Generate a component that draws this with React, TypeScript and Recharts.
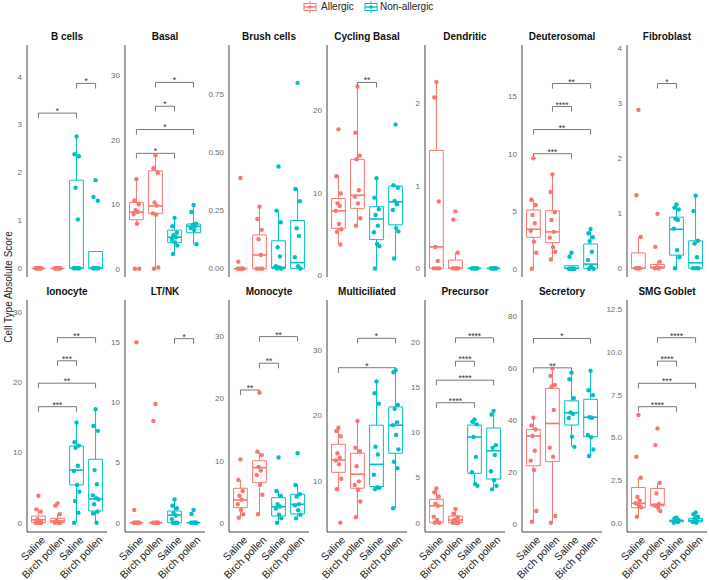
import React from 'react';
import { ScatterChart, Scatter, XAxis, YAxis, ReferenceArea, ReferenceLine } from 'recharts';

const CONDITIONS = ['Saline', 'Birch pollen', 'Saline', 'Birch pollen'];
const GROUPS = ['Allergic', 'Non-allergic'];

// each panel: points per group (A-Saline, A-Birch, NA-Saline, NA-Birch),
// box stats [lowWhisker, q1, median, q3, highWhisker], brackets [from, to, y, label]
const BCELLS_POINTS = [
  [0, 0, 0, 0, 0, 0, 0, 0, 0, 0],
  [0, 0, 0, 0, 0, 0, 0, 0, 0, 0],
  [2.75, 2.38, 2.34, 1.68, 1.02, 0, 0, 0, 0, 0],
  [1.84, 1.49, 1.41, 0, 0, 0, 0, 0, 0],
];
const BCELLS_BOX = [[0, 0, 0, 0, 0], [0, 0, 0, 0, 0], [0, 0, 0, 1.84, 2.75], [0, 0, 0, 0.35, 0.35]];
const BCELLS_SIG = [[1, 3, 3.24, '*'], [3, 4, 3.86, '*']];
const BCELLS_TICKS = [0, 1, 2, 3, 4];

const BASAL_POINTS = [
  [13.9, 10.6, 10.0, 9.1, 8.8, 8.5, 7.0, 0, 0],
  [17.6, 15.6, 14.9, 10.3, 9.8, 8.6, 8.4, 0.2, 0],
  [7.9, 6.6, 5.6, 5.2, 4.9, 4.5, 4.1, 3.6, 2.3],
  [9.9, 8.8, 7.0, 6.8, 6.6, 6.3, 6.0, 3.8],
];
const BASAL_BOX = [[7.0, 7.6, 8.8, 10.3, 13.9], [0, 8.6, 9.75, 15.2, 17.6], [2.3, 4.05, 4.9, 6.0, 7.9], [3.8, 5.6, 6.6, 6.95, 9.9]];
const BASAL_SIG = [[1, 3, 17.9, '*'], [1, 4, 21.6, '*'], [2, 3, 25.2, '*'], [2, 4, 28.9, '*']];
const BASAL_TICKS = [0, 10, 20, 30];

const BRUSH_POINTS = [
  [0.39, 0.03, 0, 0, 0, 0, 0, 0],
  [0.267, 0.214, 0.167, 0.127, 0.059, 0, 0, 0],
  [0.44, 0.25, 0.2, 0.092, 0.052, 0.01, 0.005, 0, 0],
  [0.8, 0.343, 0.29, 0.174, 0.141, 0.049, 0.01, 0],
];
const BRUSH_BOX = [[0, 0, 0, 0, 0], [0, 0, 0.059, 0.145, 0.267], [0, 0, 0.006, 0.12, 0.25], [0, 0, 0.026, 0.207, 0.343]];
const BRUSH_SIG = [];
const BRUSH_TICKS = [0, 0.25, 0.5, 0.75];

const CYCLING_POINTS = [
  [17.7, 12.0, 9.9, 8.7, 8.4, 7.8, 6.2, 5.55, 5.26, 3.7],
  [22.9, 17.3, 14.5, 14.06, 10.3, 9.5, 8.7, 6.9, 6.0],
  [11.75, 9.4, 8.0, 7.3, 6.0, 5.2, 3.77, 3.5, 0.8],
  [18.3, 10.9, 10.6, 9.0, 8.6, 7.9, 5.7, 5.3, 2.0],
];
const CYCLING_BOX = [[3.7, 5.67, 7.8, 9.3, 12.15], [6.0, 8.1, 9.7, 14.06, 22.9], [0.8, 4.3, 6.8, 8.3, 11.75], [2.0, 6.1, 8.9, 10.8, 10.9]];
const CYCLING_SIG = [[2, 3, 23.4, '**']];
const CYCLING_TICKS = [0, 10, 20];

const DENDRITIC_POINTS = [
  [2.26, 2.07, 0.81, 0.26, 0.09, 0, 0, 0],
  [0.69, 0.59, 0.19, 0, 0, 0, 0, 0],
  [0, 0, 0, 0, 0, 0, 0, 0],
  [0, 0, 0, 0, 0, 0, 0, 0],
];
const DENDRITIC_BOX = [[0, 0, 0.26, 1.43, 2.26], [0, 0, 0, 0.1, 0.19], [0, 0, 0, 0, 0], [0, 0, 0, 0, 0]];
const DENDRITIC_SIG = [];
const DENDRITIC_TICKS = [0, 1, 2];

const DEUTERO_POINTS = [
  [9.6, 6.0, 5.54, 4.67, 3.95, 3.3, 2.35, 1.39, 0],
  [8.2, 6.67, 4.9, 4.23, 3.2, 2.7, 1.86, 1.48, 0.8],
  [1.39, 1.04, 0, 0, 0, 0, 0, 0],
  [3.45, 3.08, 2.73, 2.4, 1.48, 0.75, 0.2, 0, 0],
];
const DEUTERO_BOX = [[0, 2.73, 3.43, 5.1, 6.0], [0.75, 2.26, 3.2, 5.04, 8.2], [0, 0, 0.04, 0.26, 0.26], [0, 0, 0.4, 2.15, 3.45]];
const DEUTERO_SIG = [[1, 3, 10.0, '***'], [1, 4, 12.1, '**'], [2, 3, 14.1, '****'], [2, 4, 16.1, '**']];
const DEUTERO_TICKS = [0, 5, 10, 15];

const FIBRO_POINTS = [
  [2.88, 1.33, 0.57, 0, 0, 0, 0],
  [0.99, 0.39, 0.12, 0.02, 0, 0, 0],
  [1.16, 1.1, 1.07, 0.9, 0.88, 0.72, 0.33, 0.2, 0],
  [1.32, 1.04, 0.5, 0.45, 0.2, 0, 0, 0],
];
const FIBRO_BOX = [[0, 0, 0, 0.28, 0.57], [0, 0, 0.02, 0.07, 0.12], [0, 0.24, 0.71, 0.93, 1.16], [0, 0, 0.1, 0.5, 1.32]];
const FIBRO_SIG = [[2, 3, 3.36, '*']];
const FIBRO_TICKS = [0, 1, 2, 3, 4];

const IONO_POINTS = [
  [3.85, 1.9, 1.57, 0.5, 0.2, 0, 0, 0, 0],
  [2.76, 2.43, 1.2, 0.3, 0, 0, 0, 0],
  [14.3, 11.47, 11.0, 10.7, 8.13, 7.37, 5.38, 4.42, 3.1, 1.43, 0],
  [16.2, 13.8, 13.1, 7.5, 5.48, 3.9, 3.5, 3.3, 2.62, 1.6, 1.3, 0],
];
const IONO_BOX = [[0, 0, 0.4, 0.95, 1.95], [0, 0, 0.25, 0.62, 1.2], [0, 5.38, 7.5, 10.95, 14.3], [0, 1.67, 3.38, 9.04, 16.2]];
const IONO_SIG = [[1, 3, 16.55, '***'], [1, 4, 19.9, '**'], [2, 3, 23.1, '***'], [2, 4, 26.4, '**']];
const IONO_TICKS = [0, 10, 20, 30];

const LTNK_POINTS = [
  [15.0, 1.06, 0, 0, 0, 0, 0, 0, 0],
  [9.87, 8.45, 0, 0, 0, 0, 0, 0],
  [1.94, 1.41, 1.2, 0.8, 0.6, 0.3, 0, 0, 0],
  [1.06, 0.72, 0, 0, 0, 0, 0, 0],
];
const LTNK_BOX = [[0, 0, 0, 0, 0], [0, 0, 0, 0, 0], [0, 0, 0.64, 0.97, 1.94], [0, 0, 0, 0, 0]];
const LTNK_SIG = [[3, 4, 15.3, '*']];
const LTNK_TICKS = [0, 5, 10, 15];

const MONO_POINTS = [
  [10.2, 6.9, 5.1, 4.35, 3.7, 2.97, 2.05, 1.35, 0.8],
  [21.0, 11.45, 10.9, 9.0, 8.4, 7.7, 6.1, 4.5, 1.35],
  [10.5, 5.1, 4.3, 3.0, 2.6, 2.3, 1.3, 0.7, 0],
  [11.2, 6.08, 4.6, 4.2, 3.0, 2.8, 2.0, 1.3, 0.7],
];
const MONO_BOX = [[0.8, 2.42, 3.66, 5.55, 6.9], [1.35, 6.45, 8.87, 10.0, 11.45], [0, 1.08, 2.58, 4.03, 5.1], [0.7, 1.4, 2.97, 4.58, 6.08]];
const MONO_SIG = [[1, 2, 21.4, '**'], [2, 3, 25.7, '**'], [2, 4, 30.0, '**']];
const MONO_TICKS = [0, 10, 20, 30];

const MULTI_POINTS = [
  [18.1, 17.6, 16.8, 14.2, 13.5, 13.1, 12.5, 10.3, 8.7, 3.57],
  [19.15, 15.05, 14.5, 12.2, 9.9, 9.34, 8.6, 6.8, 4.4],
  [25.2, 23.4, 21.8, 15.2, 14.0, 10.9, 9.0, 8.9, 8.7],
  [26.9, 26.6, 21.6, 21.0, 18.9, 18.5, 17.0, 14.8, 12.9, 11.9, 5.77],
];
const MULTI_BOX = [[8.7, 11.28, 13.17, 15.57, 18.1], [4.4, 8.84, 11.0, 14.2, 19.15], [8.7, 9.1, 12.5, 18.5, 25.2], [5.77, 14.2, 18.5, 21.3, 26.85]];
const MULTI_SIG = [[1, 4, 27.3, '*'], [2, 4, 31.8, '*']];
const MULTI_TICKS = [10, 20, 30];

const PRECURSOR_POINTS = [
  [3.8, 3.37, 2.9, 2.1, 1.88, 0.67, 0.3, 0, 0],
  [1.52, 1.0, 0.6, 0.3, 0, 0, 0, 0],
  [11.46, 11.2, 10.9, 9.5, 7.3, 5.6, 4.3, 4.1],
  [12.4, 12.0, 8.6, 8.3, 7.5, 5.7, 4.7, 4.1, 3.7],
];
const PRECURSOR_BOX = [[0, 0, 1.88, 2.59, 3.8], [0, 0, 0.3, 0.74, 1.52], [4.1, 5.48, 9.5, 10.83, 11.46], [3.7, 4.84, 7.98, 10.5, 12.4]];
const PRECURSOR_SIG = [[1, 3, 13.3, '****'], [1, 4, 15.8, '****'], [2, 3, 17.9, '****'], [2, 4, 20.5, '****']];
const PRECURSOR_TICKS = [0, 5, 10, 15, 20];

const SECRETORY_POINTS = [
  [41.0, 38.0, 36.5, 34.0, 28.3, 24.5, 20.9, 5.1, 1.0],
  [60.0, 57.1, 53.6, 53.0, 44.0, 29.5, 26.0, 3.2, 0.6],
  [58.3, 55.8, 48.5, 43.0, 42.5, 40.9, 33.7, 29.8],
  [59.1, 51.6, 49.7, 41.2, 41.0, 34.4, 33.5, 28.8, 26.3],
];
const SECRETORY_BOX = [[1.0, 22.5, 34.0, 36.5, 41.0], [0.6, 24.1, 38.8, 52.3, 60.0], [29.8, 38.2, 42.9, 47.5, 58.3], [26.3, 33.7, 41.2, 48.1, 59.1]];
const SECRETORY_SIG = [[1, 3, 60.2, '**'], [1, 4, 71.5, '*']];
const SECRETORY_TICKS = [0, 20, 40, 60, 80];

const SMG_POINTS = [
  [6.31, 3.87, 2.64, 1.51, 1.3, 1.14, 1.0, 0.9, 0.35],
  [5.53, 4.55, 2.34, 1.72, 1.1, 1.0, 0.9, 0.69],
  [0.3, 0.25, 0.15, 0.1, 0.05, 0],
  [0.6, 0.5, 0.35, 0.25, 0.1, 0.05, 0],
];
const SMG_BOX = [[0.35, 0.88, 1.14, 2.07, 2.64], [0.69, 1.0, 1.08, 2.01, 2.34], [0, 0.06, 0.11, 0.16, 0.3], [0, 0.05, 0.14, 0.26, 0.6]];
const SMG_SIG = [[1, 3, 6.8, '****'], [1, 4, 8.17, '***'], [2, 3, 9.47, '****'], [2, 4, 10.84, '****']];
const SMG_TICKS = [0, 2.5, 5, 7.5, 10, 12.5];

const PANELS = [
  { name: 'B cells', points: BCELLS_POINTS, box: BCELLS_BOX, sig: BCELLS_SIG, ticks: BCELLS_TICKS, domain: [-0.182, 4.662], digits: 0 },
  { name: 'Basal', points: BASAL_POINTS, box: BASAL_BOX, sig: BASAL_SIG, ticks: BASAL_TICKS, domain: [-1.27, 34.7], digits: 0 },
  { name: 'Brush cells', points: BRUSH_POINTS, box: BRUSH_BOX, sig: BRUSH_SIG, ticks: BRUSH_TICKS, domain: [-0.036, 0.963], digits: 2 },
  { name: 'Cycling Basal', points: CYCLING_POINTS, box: CYCLING_BOX, sig: CYCLING_SIG, ticks: CYCLING_TICKS, domain: [-0.24, 27.95], digits: 0 },
  { name: 'Dendritic', points: DENDRITIC_POINTS, box: DENDRITIC_BOX, sig: DENDRITIC_SIG, ticks: DENDRITIC_TICKS, domain: [-0.105, 2.707], digits: 0 },
  { name: 'Deuterosomal', points: DEUTERO_POINTS, box: DEUTERO_BOX, sig: DEUTERO_SIG, ticks: DEUTERO_TICKS, domain: [-0.72, 19.45], digits: 0 },
  { name: 'Fibroblast', points: FIBRO_POINTS, box: FIBRO_BOX, sig: FIBRO_SIG, ticks: FIBRO_TICKS, domain: [-0.158, 4.06], digits: 0 },
  { name: 'Ionocyte', points: IONO_POINTS, box: IONO_BOX, sig: IONO_SIG, ticks: IONO_TICKS, domain: [-1.33, 31.77], digits: 0 },
  { name: 'LT/NK', points: LTNK_POINTS, box: LTNK_BOX, sig: LTNK_SIG, ticks: LTNK_TICKS, domain: [-0.77, 18.51], digits: 0 },
  { name: 'Monocyte', points: MONO_POINTS, box: MONO_BOX, sig: MONO_SIG, ticks: MONO_TICKS, domain: [-1.5, 35.9], digits: 0 },
  { name: 'Multiciliated', points: MULTI_POINTS, box: MULTI_BOX, sig: MULTI_SIG, ticks: MULTI_TICKS, domain: [2.14, 37.67], digits: 0 },
  { name: 'Precursor', points: PRECURSOR_POINTS, box: PRECURSOR_BOX, sig: PRECURSOR_SIG, ticks: PRECURSOR_TICKS, domain: [-1.03, 24.69], digits: 0 },
  { name: 'Secretory', points: SECRETORY_POINTS, box: SECRETORY_BOX, sig: SECRETORY_SIG, ticks: SECRETORY_TICKS, domain: [-2.96, 86.3], digits: 0 },
  { name: 'SMG Goblet', points: SMG_POINTS, box: SMG_BOX, sig: SMG_SIG, ticks: SMG_TICKS, domain: [-0.54, 13.05], digits: 1 },
];

const RED = '#F8766D';
const TEAL = '#00BFC4';
const FONT = '"Liberation Sans", Arial, Helvetica, sans-serif';

const PANEL_LEFT = [27, 125, 229, 327, 425, 522, 627];
const ROW_TOP = [45, 300];
const PLOT_W = 80;
const PLOT_H = 232;
const PAD = 6;
const YW = 28;
const X_AXIS_H = 48;
const BOX_HALF = 0.36;
const JITTER = [0, -0.11, 0.12, -0.05, 0.07, -0.14, 0.03, 0.15, -0.08, 0.1, -0.13, 0.05];

function XTick(props: any) {
  const { x, y, payload } = props;
  return (
    <text
      transform={`translate(${x + 2},${y + 3}) rotate(-45)`}
      textAnchor="end"
      dy="0.75em"
      fontSize={10.5}
      fill="#222"
      fontFamily={FONT}
    >
      {CONDITIONS[payload.value - 1]}
    </text>
  );
}

function Panel({ p, index }: { p: any; index: number }) {
  const row = Math.floor(index / 7);
  const col = index % 7;
  const left = PANEL_LEFT[col];
  const top = ROW_TOP[row];
  const bottomRow = row === 1;
  const [lo, hi] = p.domain;
  const tickLen = (hi - lo) * 0.022;

  const marks: any[] = [];
  p.box.forEach((b: number[], gi: number) => {
    const g = gi + 1;
    const color = gi < 2 ? RED : TEAL;
    const [lw, q1, med, q3, hw] = b;
    if (lw < q1) {
      marks.push(
        <ReferenceLine key={`wl${gi}`} segment={[{ x: g, y: lw }, { x: g, y: q1 }]} stroke={color} strokeWidth={1} ifOverflow="visible" />
      );
    }
    if (hw > q3) {
      marks.push(
        <ReferenceLine key={`wh${gi}`} segment={[{ x: g, y: q3 }, { x: g, y: hw }]} stroke={color} strokeWidth={1} ifOverflow="visible" />
      );
    }
    if (q3 > q1) {
      marks.push(
        <ReferenceArea key={`b${gi}`} x1={g - BOX_HALF} x2={g + BOX_HALF} y1={q1} y2={q3} stroke={color} strokeWidth={1} fill="none" fillOpacity={0} ifOverflow="visible" />
      );
    }
    marks.push(
      <ReferenceLine key={`m${gi}`} segment={[{ x: g - BOX_HALF, y: med }, { x: g + BOX_HALF, y: med }]} stroke={color} strokeWidth={1.6} ifOverflow="visible" />
    );
  });

  p.sig.forEach((s: any[], si: number) => {
    const [a, b, y] = s;
    marks.push(
      <ReferenceLine key={`s${si}`} segment={[{ x: a, y }, { x: b, y }]} stroke="#555" strokeWidth={0.8} ifOverflow="visible" />,
      <ReferenceLine key={`sa${si}`} segment={[{ x: a, y }, { x: a, y: y - tickLen }]} stroke="#555" strokeWidth={0.8} ifOverflow="visible" />,
      <ReferenceLine key={`sb${si}`} segment={[{ x: b, y }, { x: b, y: y - tickLen }]} stroke="#555" strokeWidth={0.8} ifOverflow="visible" />
    );
  });

  const sigLabels = p.sig.map((s: any[]) => ({ x: (s[0] + s[1]) / 2, y: s[2], label: s[3] }));

  return (
    <>
      <div
        style={{
          position: 'absolute',
          left,
          top: top - 14,
          width: PLOT_W,
          textAlign: 'center',
          fontWeight: 'bold',
          fontSize: 10,
          lineHeight: '12px',
          color: '#111',
          whiteSpace: 'nowrap',
        }}
      >
        {p.name}
      </div>
      <div style={{ position: 'absolute', left: left - YW, top: top - PAD }}>
        <ScatterChart
          width={YW + PLOT_W}
          height={PAD + PLOT_H + (bottomRow ? X_AXIS_H : PAD)}
          margin={{ top: PAD, right: 0, bottom: bottomRow ? 0 : PAD, left: 0 }}
        >
          <XAxis
            type="number"
            dataKey="x"
            domain={[0.4, 4.6]}
            ticks={[1, 2, 3, 4]}
            interval={0}
            allowDataOverflow
            hide={!bottomRow}
            height={X_AXIS_H}
            axisLine={{ stroke: '#444' }}
            tickLine={false}
            tickSize={0}
            tickMargin={0}
            tick={<XTick />}
          />
          <YAxis
            type="number"
            dataKey="y"
            domain={p.domain}
            ticks={p.ticks}
            interval={0}
            allowDataOverflow
            width={YW}
            axisLine={{ stroke: '#444' }}
            tickLine={false}
            tickSize={3}
            tickMargin={2}
            tick={{ fontSize: 8, fill: '#6b6b6b', fontFamily: FONT }}
            tickFormatter={(v: number) => v.toFixed(p.digits)}
          />
          {marks}
          {p.points.map((vals: number[], gi: number) => (
            <Scatter
              key={`p${gi}`}
              data={vals.map((y, k) => ({ x: gi + 1 + JITTER[k % JITTER.length], y }))}
              fill={gi < 2 ? RED : TEAL}
              isAnimationActive={false}
              shape={(sp: any) => <circle cx={sp.cx} cy={sp.cy} r={2.2} fill={gi < 2 ? RED : TEAL} />}
            />
          ))}
          <Scatter
            data={sigLabels}
            isAnimationActive={false}
            shape={(sp: any) => (
              <text x={sp.cx} y={sp.cy + 1} textAnchor="middle" fontSize={8.5} fill="#333" fontFamily={FONT}>
                {sp.payload.label}
              </text>
            )}
          />
        </ScatterChart>
      </div>
    </>
  );
}

function KeyGlyph({ color }: { color: string }) {
  return (
    <svg width={14} height={12} style={{ display: 'block' }}>
      <line x1={7} y1={0} x2={7} y2={2.5} stroke={color} strokeWidth={1} />
      <line x1={7} y1={9.5} x2={7} y2={12} stroke={color} strokeWidth={1} />
      <rect x={1} y={2.5} width={12} height={7} fill="#fff" stroke={color} strokeWidth={1} />
      <line x1={1} y1={6} x2={13} y2={6} stroke={color} strokeWidth={1.4} />
      <circle cx={7} cy={6} r={1.8} fill={color} />
    </svg>
  );
}

export default function App() {
  return (
    <div
      style={{
        position: 'absolute',
        left: 0,
        top: 0,
        width: 709,
        height: 580,
        background: '#fff',
        fontFamily: FONT,
        overflow: 'hidden',
      }}
    >
      <div style={{ position: 'absolute', left: 303, top: 1 }}>
        <KeyGlyph color={RED} />
      </div>
      <div style={{ position: 'absolute', left: 321, top: 1, fontSize: 10, lineHeight: '12px', color: '#222' }}>{GROUPS[0]}</div>
      <div style={{ position: 'absolute', left: 364, top: 1 }}>
        <KeyGlyph color={TEAL} />
      </div>
      <div style={{ position: 'absolute', left: 380, top: 1, fontSize: 10, lineHeight: '12px', color: '#222' }}>{GROUPS[1]}</div>

      <div
        style={{
          position: 'absolute',
          left: 8,
          top: 287,
          transform: 'translate(-50%, -50%) rotate(-90deg)',
          fontSize: 10,
          color: '#222',
          whiteSpace: 'nowrap',
        }}
      >
        Cell Type Absolute Score
      </div>

      {PANELS.map((p, i) => (
        <Panel key={p.name} p={p} index={i} />
      ))}
    </div>
  );
}
